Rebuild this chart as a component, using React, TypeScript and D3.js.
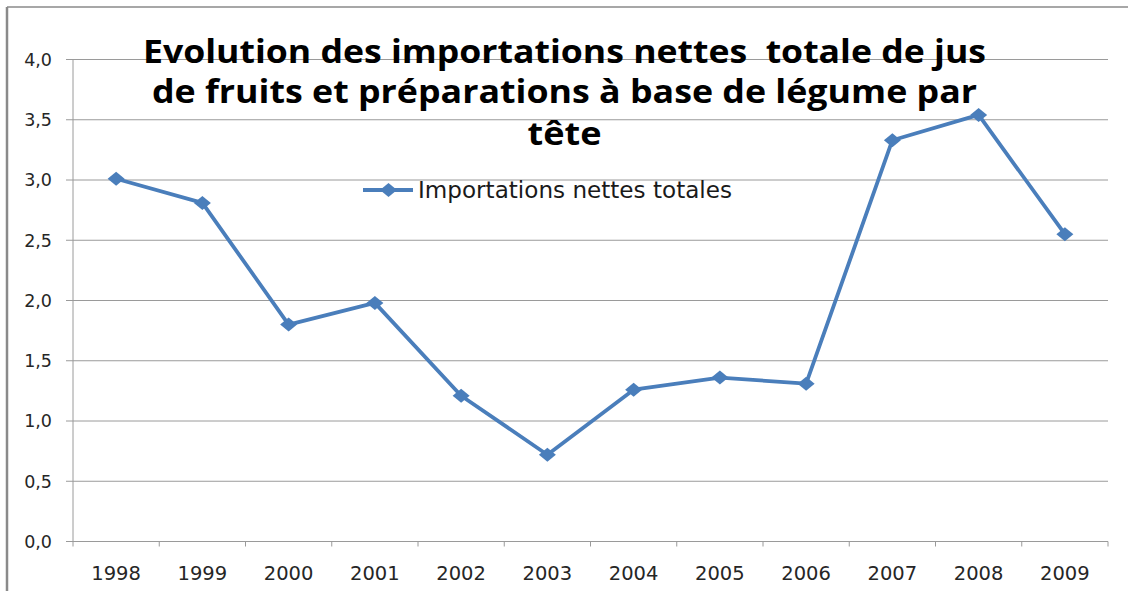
import React from "react";
import * as d3 from "d3";

const years: string[] = ["1998","1999","2000","2001","2002","2003","2004","2005","2006","2007","2008","2009"];
const values: number[] = [3.01, 2.81, 1.80, 1.98, 1.21, 0.72, 1.26, 1.36, 1.31, 3.33, 3.54, 2.55];
const yTicks: number[] = [0, 0.5, 1, 1.5, 2, 2.5, 3, 3.5, 4];
const seriesName = "Importations nettes totales";
const titleLines: string[] = [
  "Evolution des importations nettes\u00A0 totale de jus",
  "de fruits et préparations à base de légume par",
  "tête",
];

const W = 1128;
const H = 591;
const left = 73, right = 1108, top = 59.5, bottom = 541.5;
const blue = "#4A7EBB";
const grid = "#9a9a9a";

function diamond(cx: number, cy: number, hw = 8.5, hh = 7): string {
  return `M${cx},${cy - hh}L${cx + hw},${cy}L${cx},${cy + hh}L${cx - hw},${cy}Z`;
}

export default function App() {
  const x = d3.scaleBand<string>().domain(years).range([left, right]);
  const y = d3.scaleLinear().domain([0, 4]).range([bottom, top]);
  const cx = (yr: string) => (x(yr) as number) + x.bandwidth() / 2;
  const line = d3
    .line<number>()
    .x((_, i) => cx(years[i]))
    .y((v) => y(v));
  const fmt = (v: number) => v.toFixed(1).replace(".", ",");
  const boundaries = years.map((yr) => x(yr) as number).concat([right]);

  return (
    <svg
      width={W}
      height={H}
      viewBox={`0 0 ${W} ${H}`}
      style={{ position: "absolute", left: 0, top: 0, background: "#fff" }}
    >
      <rect x={0} y={0} width={W} height={H} fill="#fff" />
      {/* outer border */}
      <line x1={7} y1={7} x2={W} y2={7} stroke="#8a8a8a" strokeWidth={1.5} />
      <line x1={7} y1={7} x2={7} y2={H} stroke="#8a8a8a" strokeWidth={2.5} />

      {/* gridlines */}
      {yTicks.map((t) => (
        <line key={t} x1={66} x2={right} y1={y(t)} y2={y(t)} stroke={grid} strokeWidth={1} />
      ))}
      {/* y axis */}
      <line x1={left} x2={left} y1={top} y2={bottom} stroke={grid} strokeWidth={1} />
      {/* x ticks */}
      {boundaries.map((b, i) => (
        <line key={i} x1={b} x2={b} y1={bottom} y2={bottom + 5} stroke={grid} strokeWidth={1} />
      ))}

      {/* y labels */}
      {yTicks.map((t) => (
        <text
          key={t}
          x={52}
          y={y(t)}
          dy="0.36em"
          textAnchor="end"
          fontFamily="DejaVu Sans"
          fontSize={17.5}
          fill="#262626"
        >
          {fmt(t)}
        </text>
      ))}
      {/* x labels */}
      {years.map((yr) => (
        <text
          key={yr}
          x={cx(yr)}
          y={580}
          textAnchor="middle"
          fontFamily="DejaVu Sans"
          fontSize={19.5}
          fill="#262626"
        >
          {yr}
        </text>
      ))}

      {/* series */}
      <path d={line(values) || ""} fill="none" stroke={blue} strokeWidth={3.8} strokeLinejoin="round" />
      {values.map((v, i) => (
        <path key={i} d={diamond(cx(years[i]), y(v))} fill={blue} />
      ))}

      {/* title */}
      <g fontFamily="Open Sans" fontWeight="bold" fontSize={32} fill="#000">
        <text x={564.5} y={63} textAnchor="middle" textLength={843} lengthAdjust="spacingAndGlyphs">
          {titleLines[0]}
        </text>
        <text x={564.5} y={103} textAnchor="middle" textLength={825} lengthAdjust="spacingAndGlyphs">
          {titleLines[1]}
        </text>
        <text x={564.5} y={145} textAnchor="middle" textLength={74} lengthAdjust="spacingAndGlyphs">
          {titleLines[2]}
        </text>
      </g>

      {/* legend */}
      <line x1={363} x2={413} y1={190} y2={190} stroke={blue} strokeWidth={3.8} />
      <path d={diamond(388.5, 190)} fill={blue} />
      <text x={418} y={198} fontFamily="DejaVu Sans" fontSize={23} fill="#1a1a1a"
        textLength={314} lengthAdjust="spacingAndGlyphs">
        {seriesName}
      </text>
    </svg>
  );
}
